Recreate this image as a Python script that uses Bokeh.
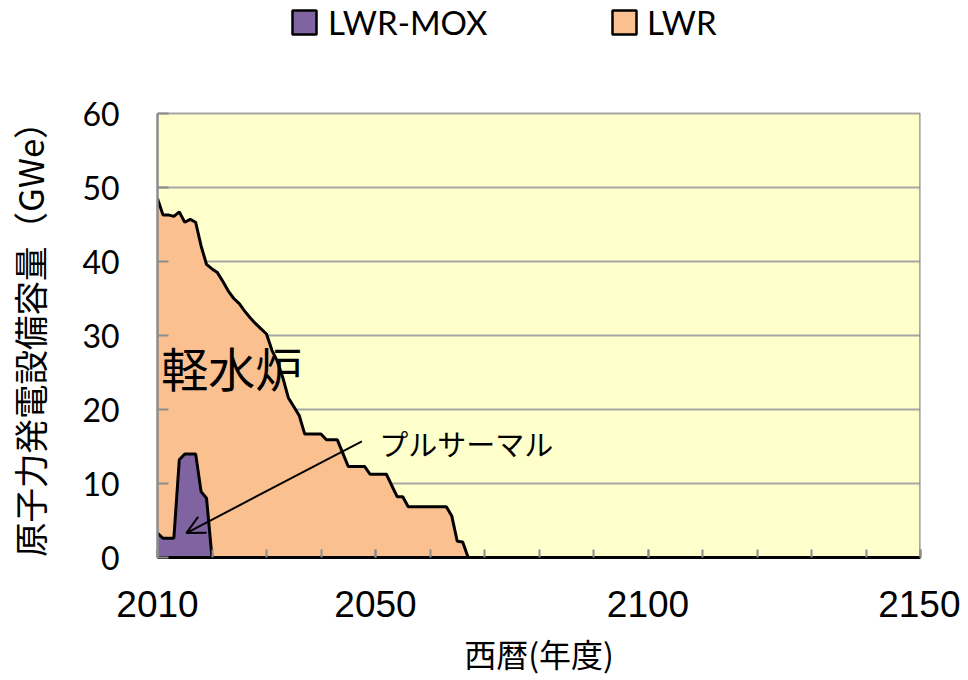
from bokeh.plotting import figure
from bokeh.models import (Range1d, FixedTicker, Legend, LegendItem, Label,
                          Arrow, OpenHead)
from bokeh.embed import file_html
from bokeh.resources import INLINE

# ---------------- data ----------------
years = list(range(2010, 2068))

# LWR-MOX (プルサーマル) capacity, GWe
lwr_mox = [3.3, 2.6, 2.6, 2.6, 13.2, 14.0, 14.0, 14.0, 8.9, 8.0] + [0.0] * 48

# LWR (軽水炉, excluding MOX) capacity, GWe
lwr = [45.2, 43.7, 43.7, 43.5, 33.5, 31.3, 31.7, 31.3, 33.2, 31.6,   # 2010-2019
       39.0, 38.5, 37.3, 36.0, 35.0, 34.3, 33.3, 32.4, 31.6, 30.9,   # 2020-2029
       30.2, 28.0, 26.5, 24.3, 21.6, 20.4, 19.2, 16.7, 16.7, 16.7,   # 2030-2039
       16.7, 15.9, 15.9, 15.9, 14.1, 12.3, 12.3, 12.3, 12.3, 11.25,  # 2040-2049
       11.25, 11.25, 11.25, 9.7, 8.2, 8.2, 6.85, 6.85, 6.85, 6.85,   # 2050-2059
       6.85, 6.85, 6.85, 6.85, 5.6, 2.2, 2.1, 0.0]                   # 2060-2067

series_names = ["LWR-MOX", "LWR"]
series_colors = ["#8064A2", "#FAC090"]

x_min, x_max = 2010, 2150
y_min, y_max = 0, 60
x_label_years = [2010, 2050, 2100, 2150]
x_minor_years = list(range(2010, 2151, 10))
y_ticks = [0, 10, 20, 30, 40, 50, 60]

x_title = "西暦(年度)"
y_title = "原子力発電設備容量（GWe）"
note_lwr = "軽水炉"
note_mox = "プルサーマル"

# annotation anchor points (data units)
note_lwr_pos = (2010.7, 25.8)
note_mox_pos = (2050.7, 15.5)
arrow_from = (2047.5, 15.7)
arrow_to = (2015.3, 3.3)

stack_top = [a + b for a, b in zip(lwr_mox, lwr)]

# ---------------- layout ----------------
FRAME_PX = 557          # frame height in px (plot area + legend strip above it)
PLOT_PX = 444           # px spanned by 0..60
y_view_end = y_max * FRAME_PX / PLOT_PX   # blank strip above 60 holds the legend

p = figure(width=960, height=678,
           x_range=Range1d(x_min, x_max), y_range=Range1d(y_min, y_view_end),
           output_backend="svg", toolbar_location=None,
           min_border_left=157, min_border_right=40,
           min_border_top=0, min_border_bottom=121)
p.background_fill_color = "white"
p.border_fill_color = "white"
p.outline_line_color = None

# plot-area background (0..60 only)
p.quad(left=[x_min], right=[x_max], bottom=[y_min], top=[y_max],
       fill_color="#FFFFCC", line_color=None, level="image")

# areas
p.varea(x=years, y1=0, y2=lwr_mox, fill_color=series_colors[0])
p.varea(x=years, y1=lwr_mox, y2=stack_top, fill_color=series_colors[1])
p.line(years, lwr_mox, line_color="black", line_width=3)
p.line(years, stack_top, line_color="black", line_width=3)

# right border of plot area
p.line([x_max, x_max], [y_min, y_max], line_color="#8C8C8C", line_width=2.5)

# grid
p.xgrid.grid_line_color = None
p.ygrid.ticker = FixedTicker(ticks=y_ticks)
p.ygrid.grid_line_color = "#A6A6A6"
p.ygrid.grid_line_width = 2

# x axis
xa = p.xaxis[0]
xa.ticker = FixedTicker(ticks=x_label_years, minor_ticks=x_minor_years)
xa.axis_line_color = "black"
xa.axis_line_width = 3
xa.major_tick_in = 8
xa.major_tick_out = 0
xa.minor_tick_in = 8
xa.minor_tick_out = 0
xa.major_tick_line_color = "#8C8C8C"
xa.minor_tick_line_color = "#8C8C8C"
xa.major_tick_line_width = 2
xa.minor_tick_line_width = 2
xa.major_label_text_font = "Liberation Sans"
xa.major_label_text_font_size = "37px"
xa.major_label_text_color = "black"
xa.major_label_standoff = 33
xa.axis_label = x_title
xa.axis_label_text_font = "Noto Sans CJK JP"
xa.axis_label_text_font_style = "normal"
xa.axis_label_text_font_size = "32px"
xa.axis_label_text_color = "black"
xa.axis_label_standoff = 10

# y axis
ya = p.yaxis[0]
ya.ticker = FixedTicker(ticks=y_ticks)
ya.bounds = (y_min, y_max)
ya.axis_line_color = "#8C8C8C"
ya.axis_line_width = 2.5
ya.major_tick_in = 11
ya.major_tick_out = 0
ya.minor_tick_line_color = None
ya.major_tick_line_color = "#8C8C8C"
ya.major_tick_line_width = 2
ya.major_label_text_font = "Lato"
ya.major_label_text_font_size = "32px"
ya.major_label_text_color = "black"
ya.major_label_standoff = 38
# the axis label is centred on the whole frame (which includes the legend
# strip); trailing blank spaces move the visible text down onto 0..60
ya.axis_label = y_title + "\u3000\u3000\u3000\u2002"
ya.axis_label_text_font = "Noto Sans CJK JP"
ya.axis_label_text_font_style = "normal"
ya.axis_label_text_font_size = "34.5px"
ya.axis_label_text_color = "black"
ya.axis_label_standoff = 25

# annotations
p.add_layout(Label(x=note_lwr_pos[0], y=note_lwr_pos[1], text=note_lwr,
                   text_font="Noto Sans CJK JP", text_font_size="47px",
                   text_baseline="middle", text_align="left", text_color="black"))
p.add_layout(Label(x=note_mox_pos[0], y=note_mox_pos[1], text=note_mox,
                   text_font="Noto Sans CJK JP", text_font_size="29px",
                   text_baseline="middle", text_align="left", text_color="black"))
p.add_layout(Arrow(end=OpenHead(size=18, line_width=2, line_color="black"),
                   x_start=arrow_from[0], y_start=arrow_from[1],
                   x_end=arrow_to[0], y_end=arrow_to[1],
                   line_width=2, line_color="black"))

# legend (two single-item legends in the blank strip above the plot area)
nan = float("nan")
legend_x = [132, 452]
legend_standoff = [9, 8]
for name, color, lx, ls in zip(series_names, series_colors, legend_x, legend_standoff):
    r = p.quad(left=[nan], right=[nan], top=[nan], bottom=[nan], fill_color=color,
               line_color="black", line_width=2.5)
    lg = Legend(items=[LegendItem(label=name, renderers=[r])],
                location=(lx, 515), orientation="horizontal",
                glyph_width=30, glyph_height=30, label_standoff=ls,
                label_text_font="Lato", label_text_font_size="33px",
                label_text_color="black", label_height=30,
                border_line_color=None, background_fill_alpha=0,
                padding=0, margin=0)
    p.add_layout(lg)

open("out.html", "w").write(file_html(p, INLINE))
